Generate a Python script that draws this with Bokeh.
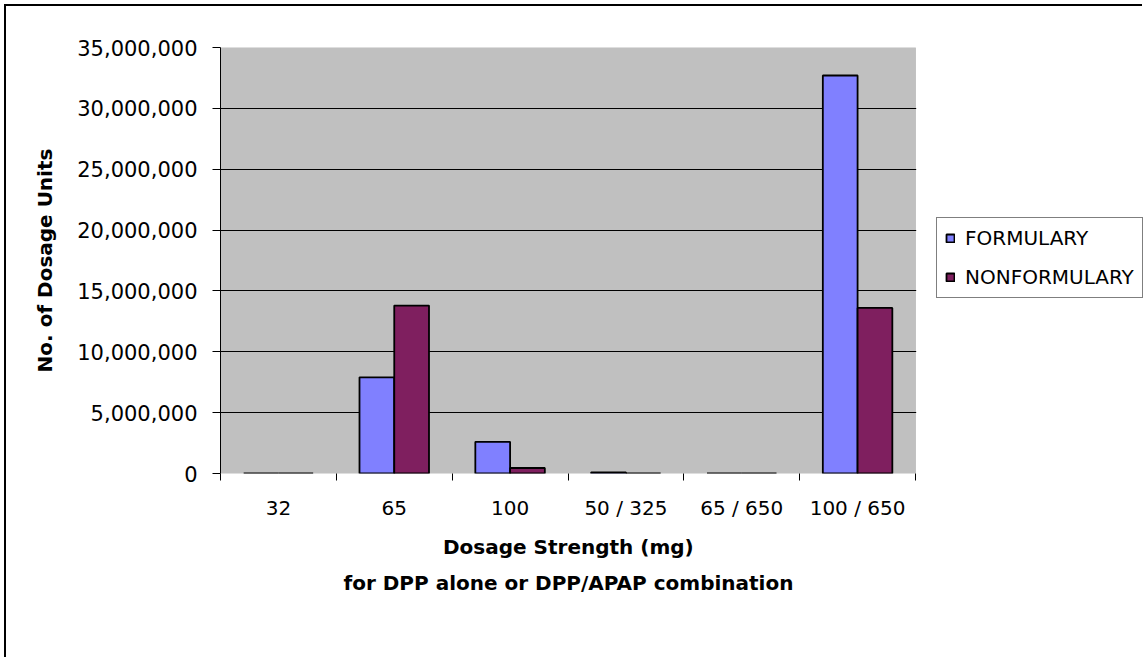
from bokeh.plotting import figure
from bokeh.models import (Range1d, FixedTicker, NumeralTickFormatter, Legend, LegendItem,
                          ColumnDataSource, BoxAnnotation, Title)
from bokeh.transform import dodge
from bokeh.embed import file_html
from bokeh.resources import INLINE

categories = ["32", "65", "100", "50 / 325", "65 / 650", "100 / 650"]
formulary = [0, 7_900_000, 2_600_000, 100_000, 0, 32_700_000]
nonformulary = [0, 13_800_000, 450_000, 0, 0, 13_600_000]
y_ticks = [0, 5_000_000, 10_000_000, 15_000_000, 20_000_000, 25_000_000, 30_000_000, 35_000_000]
series_names = ["FORMULARY", "NONFORMULARY"]
series_colors = ["#8080FF", "#7F1F5F"]
x_title_lines = ["Dosage Strength (mg)", "for DPP alone or DPP/APAP combination"]
y_title = "No. of Dosage Units"

FONT = "DejaVu Sans"
n_cat = len(categories)
idx = list(range(n_cat))
source = ColumnDataSource(dict(x=idx, f=formulary, n=nonformulary))

# layout (pixels)
W, H = 1138, 653
LEFT, TOP, BOTTOM = 214, 41, 186
AREA_W = 695                      # width of the grey plotting area
FRAME_W = W - LEFT                # frame reaches the right edge (room for legend)
x_end = -0.5 + n_cat * FRAME_W / AREA_W
title_text_w = [250, 449]         # rendered widths of the two title lines (px)
title_standoff = [20, 0]

p = figure(width=W, height=H, output_backend="svg", toolbar_location=None,
           x_range=Range1d(-0.5, x_end), y_range=Range1d(0, 35_000_000),
           min_border_left=LEFT, min_border_right=0, min_border_top=TOP, min_border_bottom=BOTTOM)
p.styles = {"border-left": "2px solid black", "border-top": "2px solid black",
            "margin-left": "4px", "margin-top": "4px"}
p.background_fill_color = "white"
p.border_fill_color = "white"
p.outline_line_color = None

# grey plotting area
area = BoxAnnotation(left=-0.5, right=n_cat - 0.5, bottom=0, top=35_000_000,
                     fill_color="#C0C0C0", fill_alpha=1, line_color="#808080",
                     line_width=1, level="image")
p.add_layout(area)

p.xgrid.visible = False
p.ygrid.ticker = FixedTicker(ticks=y_ticks)
p.ygrid.grid_line_color = "black"
p.ygrid.grid_line_width = 1

# white mask to the right of the grey area (hides grid lines there)
mask = BoxAnnotation(left=n_cat - 0.5 + 0.006, fill_color="white", fill_alpha=1,
                     line_color=None, level="underlay")
p.add_layout(mask)

r1 = p.vbar(x=dodge("x", -0.15), top="f", width=0.3, source=source,
            fill_color=series_colors[0], line_color="black", line_width=1.8)
r2 = p.vbar(x=dodge("x", 0.15), top="n", width=0.3, source=source,
            fill_color=series_colors[1], line_color="black", line_width=1.8)

# x axis
xa = p.xaxis[0]
xa.ticker = FixedTicker(ticks=idx, minor_ticks=[i - 0.5 for i in range(n_cat + 1)])
xa.major_label_overrides = {i: c for i, c in enumerate(categories)}
xa.major_tick_line_color = None
xa.major_tick_out = 0
xa.major_tick_in = 0
xa.minor_tick_out = 7
xa.minor_tick_in = 0
xa.minor_tick_line_color = "black"
xa.axis_line_color = None
xa.major_label_standoff = 15
xa.major_label_text_font = FONT
xa.major_label_text_font_size = "20px"
xa.major_label_text_color = "black"

for line, tw, so in zip(x_title_lines, title_text_w, title_standoff):
    t = Title(text=line, align="left", offset=(AREA_W - tw) / 2,
              text_font=FONT, text_font_size="20px", text_font_style="bold",
              text_color="black", standoff=so)
    p.add_layout(t, "below")

# y axis
ya = p.yaxis[0]
ya.ticker = FixedTicker(ticks=y_ticks)
ya.formatter = NumeralTickFormatter(format="0,0")
ya.major_tick_out = 8
ya.major_tick_in = 0
ya.minor_tick_line_color = None
ya.axis_line_color = "black"
ya.major_tick_line_color = "black"
ya.major_label_standoff = 15
ya.major_label_text_font = FONT
ya.major_label_text_font_size = "21px"
ya.major_label_text_color = "black"
ya.axis_label = y_title
ya.axis_label_text_font = FONT
ya.axis_label_text_font_size = "20px"
ya.axis_label_text_font_style = "bold"
ya.axis_label_text_color = "black"
ya.axis_label_standoff = 17

legend = Legend(items=[LegendItem(label=series_names[0], renderers=[r1]),
                       LegendItem(label=series_names[1], renderers=[r2])],
                location=(AREA_W + 21, 175))
legend.border_line_color = "black"
legend.border_line_width = 1
legend.background_fill_color = "white"
legend.background_fill_alpha = 1
legend.label_text_font = FONT
legend.label_text_font_size = "20px"
legend.label_text_color = "black"
legend.glyph_width = 10
legend.glyph_height = 10
legend.padding = 8
legend.spacing = 15
legend.label_standoff = 10
legend.margin = 0
p.add_layout(legend)

open("out.html", "w").write(file_html(p, INLINE))
